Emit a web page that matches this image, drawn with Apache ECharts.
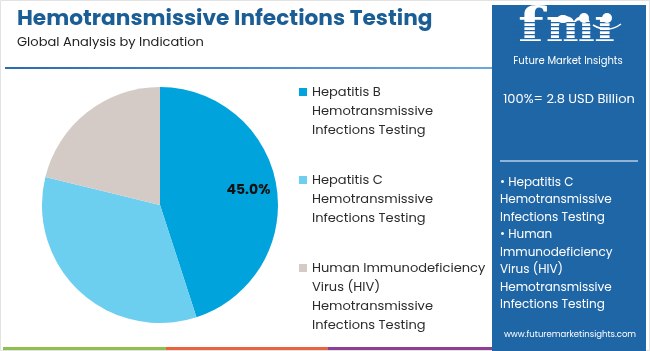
<!DOCTYPE html>
<html><head><meta charset="utf-8">
<script src="https://cdn.jsdelivr.net/npm/echarts@6/dist/echarts.min.js"></script>
<style>html,body{margin:0;padding:0;background:#fff}#c{width:650px;height:351px}</style>
</head><body><div id="c"></div>
<script>
const categories = ['Hepatitis B Hemotransmissive Infections Testing','Hepatitis C Hemotransmissive Infections Testing','Human Immunodeficiency Virus (HIV) Hemotransmissive Infections Testing'];
const legendLabels = ['Hepatitis B\nHemotransmissive\nInfections Testing','Hepatitis C\nHemotransmissive\nInfections Testing','Human Immunodeficiency\nVirus (HIV)\nHemotransmissive\nInfections Testing'];
const shares = [45.0, 33.8, 21.2];
const colors = ['#00a3dc','#6dcff0','#d5cbc6'];
const titleText = 'Hemotransmissive Infections Testing';
const subtitleText = 'Global Analysis by Indication';
const totalText = '100%= 2.8 USD Billion';
const panelLines = ['• Hepatitis C','Hemotransmissive','Infections Testing','• Human','Immunodeficiency','Virus (HIV)','Hemotransmissive','Infections Testing'];
const siteText = 'www.futuremarketinsights.com';
const logoSub = 'Future Market Insights';

const FONT = 'Poppins, "Open Sans", "Noto Sans", sans-serif';
const LOGOFONT = '"DejaVu Serif", serif';
const PANEL = '#1f66a6';
const chart = echarts.init(document.getElementById('c'), null, {renderer:'canvas'});

const pieData = categories.map((n,i)=>({name:n, value:shares[i], itemStyle:{color:colors[i]}}));
const labelData = categories.map((n,i)=>({name:n, value:shares[i], label:{show:i===0}}));

// logo stripes
const stripes = [];
for (let y = 22; y < 56; y += 4) {
  stripes.push({type:'rect', shape:{x:512,y:y,width:112,height:1.2}, style:{fill:PANEL}, z:102});
}

chart.setOption({
  animation:false,
  title:[
    {text:titleText, left:12, top:4, textStyle:{fontFamily:FONT, fontWeight:'bold', fontSize:21.7, color:'#1b5e96'}},
    {text:subtitleText, left:12, top:31, textStyle:{fontFamily:FONT, fontWeight:'normal', fontSize:13, color:'#222'}}
  ],
  legend:{
    orient:'vertical', left:294, top:78, itemGap:12,
    itemWidth:8, itemHeight:66,
    icon:'path://M0,0L8,0L8,8L0,8Z M0,66L0.001,66',
    itemStyle:{borderWidth:0},
    data:categories,
    formatter:function(name){
      const s = legendLabels[categories.indexOf(name)];
      const n = s.split('\n').length;
      return n < 4 ? s + '\n ' : s;
    },
    textStyle:{fontFamily:FONT, fontSize:13, lineHeight:19, color:'#2b2b2b'},
    selectedMode:false
  },
  series:[
    {type:'pie', center:[160,205], radius:[0,118], startAngle:90, clockwise:true,
     data:pieData, label:{show:false}, labelLine:{show:false},
     itemStyle:{borderWidth:0}, silent:true},
    {type:'pie', center:[160,205], radius:[55,118], startAngle:90, clockwise:true,
     data:labelData, itemStyle:{color:'rgba(0,0,0,0)', borderWidth:0}, silent:true,
     labelLine:{show:false},
     label:{position:'inside', formatter:p=>p.value.toFixed(1)+'%', fontFamily:FONT, fontWeight:'bold', fontSize:14, color:'#111'}}
  ],
  graphic:[
    {type:'rect', shape:{x:0.5,y:0.5,width:649,height:350}, style:{fill:'none', stroke:'#e2e2e2', lineWidth:1}, z:1},
    {type:'rect', shape:{x:5,y:67,width:487,height:2}, style:{fill:new echarts.graphic.LinearGradient(0,0,1,0,[{offset:0,color:'#2b6cae'},{offset:1,color:'#6aa8dc'}])}, z:2},
    {type:'rect', shape:{x:3,y:347,width:163,height:3}, style:{fill:'#8cc152'}, z:2},
    {type:'rect', shape:{x:166,y:347,width:162,height:3}, style:{fill:'#e8643c'}, z:2},
    {type:'rect', shape:{x:328,y:347,width:164,height:3}, style:{fill:'#8e3f95'}, z:2},
    {type:'rect', shape:{x:492,y:5,width:154,height:346}, style:{fill:PANEL}, z:100},
    {type:'text', x:518, y:52, scaleX:1.3, style:{text:'f', fontFamily:LOGOFONT, fontWeight:'bold', fontSize:46, fill:'#fff', verticalAlign:'bottom'}, z:101},
    {type:'text', x:546, y:52, style:{text:'m', fontFamily:LOGOFONT, fontWeight:'bold', fontSize:46, fill:'#fff', verticalAlign:'bottom'}, z:101},
    {type:'text', x:594, y:52, scaleX:1.2, style:{text:'ı', fontFamily:LOGOFONT, fontWeight:'bold', fontSize:46, fill:'#fff', verticalAlign:'bottom'}, z:101},
    ...stripes,
    {type:'ellipse', shape:{cx:563,cy:19,rx:6,ry:4}, style:{fill:'#fff'}, z:103},
    {type:'circle', shape:{cx:584,cy:18,r:5}, style:{fill:'#fff'}, z:103},
    {type:'circle', shape:{cx:607,cy:18,r:5}, style:{fill:'#fff'}, z:103},
    {type:'bezierCurve', shape:{x1:593,y1:25,cpx1:603,cpy1:31,cpx2:613,cpy2:30,x2:621,y2:24}, style:{stroke:'#fff', lineWidth:1.5, fill:'none'}, z:103},
    {type:'text', x:568, y:61, style:{text:logoSub, fontFamily:FONT, fontSize:10, fill:'#fff', align:'center', verticalAlign:'middle'}, z:103},
    {type:'text', x:569, y:100, style:{text:totalText, fontFamily:FONT, fontSize:13, fill:'#fff', align:'center', verticalAlign:'middle'}, z:103},
    {type:'rect', shape:{x:500,y:160,width:138,height:2}, style:{fill:'#8fb4d8'}, z:103},
    {type:'text', x:500, y:174, style:{text:panelLines.join('\n'), fontFamily:FONT, fontSize:12, lineHeight:17.5, fill:'#fff'}, z:103},
    {type:'text', x:570, y:335, style:{text:siteText, fontFamily:FONT, fontSize:8.5, fill:'#fff', align:'center', verticalAlign:'middle'}, z:103}
  ]
});
</script></body></html>
